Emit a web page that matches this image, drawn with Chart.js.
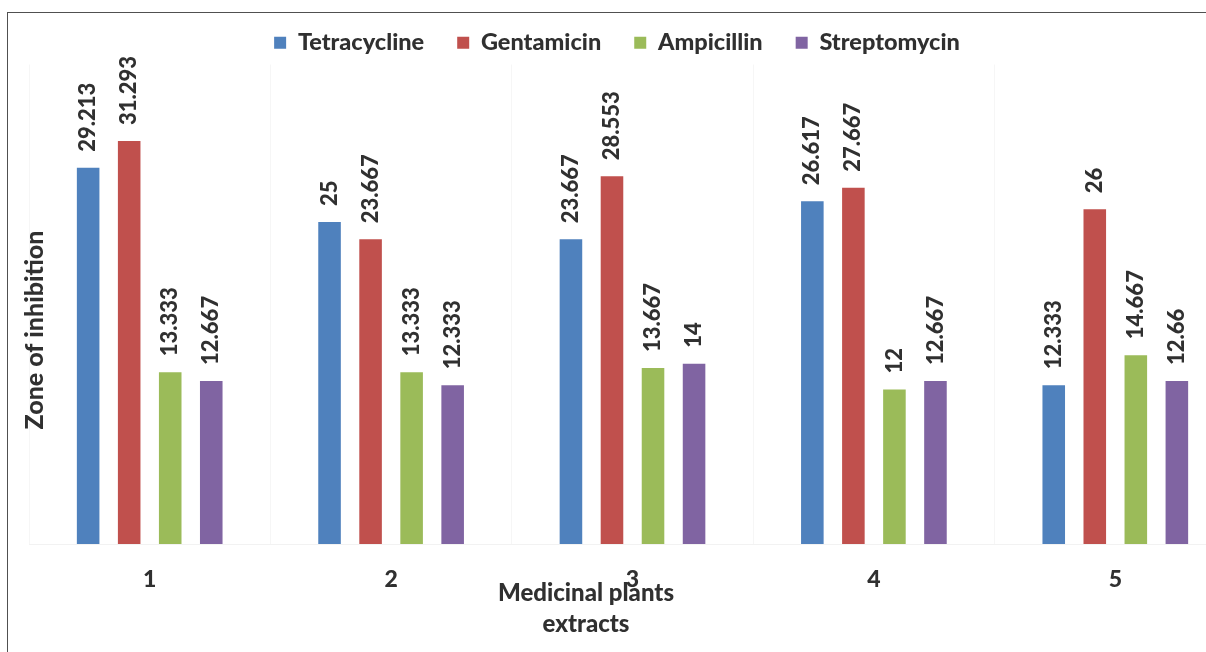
<!DOCTYPE html>
<html>
<head>
<meta charset="utf-8">
<title>Zone of inhibition by medicinal plant extract</title>
<script src="https://cdn.jsdelivr.net/npm/chart.js@4.4.1/dist/chart.umd.min.js"></script>
<style>
  html, body { margin: 0; padding: 0; background: #ffffff; overflow: hidden; width: 1206px; height: 652px; }
  #frame { position: absolute; left: 7px; top: 12px; width: 1300px; height: 700px;
           border-left: 1px solid #505050; border-top: 1px solid #505050; }
  #wrap { position: absolute; left: -2px; top: 13px; width: 1238px; height: 639px; }
</style>
</head>
<body>
<div id="frame"></div>
<div id="wrap"><canvas id="chart"></canvas></div>
<script>
// Medicinal plant extracts (x categories)
const extracts = ['1', '2', '3', '4', '5'];

// Zone of inhibition for each antibiotic
const tetracycline = [29.213, 25, 23.667, 26.617, 12.333];
const gentamicin   = [31.293, 23.667, 28.553, 27.667, 26];
const ampicillin   = [13.333, 13.333, 13.667, 12, 14.667];
const streptomycin = [12.667, 12.333, 14, 12.667, 12.66];

const seriesNames = ['Tetracycline', 'Gentamicin', 'Ampicillin', 'Streptomycin'];
const seriesColors = ['#4F81BD', '#C0504D', '#9BBB59', '#8064A2'];

const xTitleLines = ['Medicinal plants', 'extracts'];
const yTitle = 'Zone of inhibition';

const TEXT = '#303030';
const FONT = 'Lato';

// Vertical value labels above each bar
const valueLabels = {
  id: 'valueLabels',
  afterDatasetsDraw(chart) {
    const ctx = chart.ctx;
    ctx.save();
    ctx.font = '900 22px ' + FONT;
    ctx.fillStyle = TEXT;
    ctx.textAlign = 'left';
    ctx.textBaseline = 'middle';
    chart.data.datasets.forEach((ds, di) => {
      chart.getDatasetMeta(di).data.forEach((bar, i) => {
        ctx.save();
        ctx.translate(bar.x, bar.y - 16);
        ctx.rotate(-Math.PI / 2);
        ctx.fillText(String(ds.data[i]), 0, 0);
        ctx.restore();
      });
    });
    ctx.restore();
  }
};

// Axis titles
const axisTitles = {
  id: 'axisTitles',
  afterDraw(chart) {
    const ctx = chart.ctx;
    ctx.save();
    ctx.fillStyle = TEXT;
    ctx.textAlign = 'center';
    ctx.textBaseline = 'alphabetic';
    ctx.font = '900 24px ' + FONT;
    ctx.fillText(xTitleLines[0], 588, 588);
    ctx.fillText(xTitleLines[1], 588, 619);

    ctx.font = '900 25px ' + FONT;
    ctx.translate(37, 317);
    ctx.rotate(-Math.PI / 2);
    ctx.textBaseline = 'middle';
    ctx.fillText(yTitle, 0, 0);
    ctx.restore();
  }
};

const datasets = [tetracycline, gentamicin, ampicillin, streptomycin].map((values, k) => ({
  label: seriesNames[k],
  data: values,
  backgroundColor: seriesColors[k],
  borderWidth: 0,
  categoryPercentage: 0.68,
  barPercentage: 0.55
}));

new Chart(document.getElementById('chart'), {
  type: 'bar',
  data: { labels: extracts, datasets },
  options: {
    responsive: true,
    maintainAspectRatio: false,
    animation: false,
    layout: { padding: { top: -15, left: 0, right: 0, bottom: 0 } },
    plugins: {
      tooltip: { enabled: false },
      legend: {
        position: 'top',
        labels: {
          boxWidth: 12,
          boxHeight: 12,
          padding: 33,
          color: TEXT,
          font: { family: FONT, size: 23.5, weight: '900' }
        }
      }
    },
    scales: {
      x: {
        grid: { display: true, color: 'rgba(0,0,0,0.035)', drawTicks: false, offset: true },
        border: { display: true, color: 'rgba(0,0,0,0.05)' },
        ticks: { color: TEXT, padding: 22, font: { family: FONT, size: 23, weight: '900' } },
        afterFit(scale) { scale.height = 108; }
      },
      y: {
        min: 0,
        max: 37.24,
        grid: { display: false },
        border: { display: false },
        ticks: { display: false },
        afterFit(scale) { scale.width = 31; }
      }
    }
  },
  plugins: [valueLabels, axisTitles]
});
</script>
</body>
</html>
